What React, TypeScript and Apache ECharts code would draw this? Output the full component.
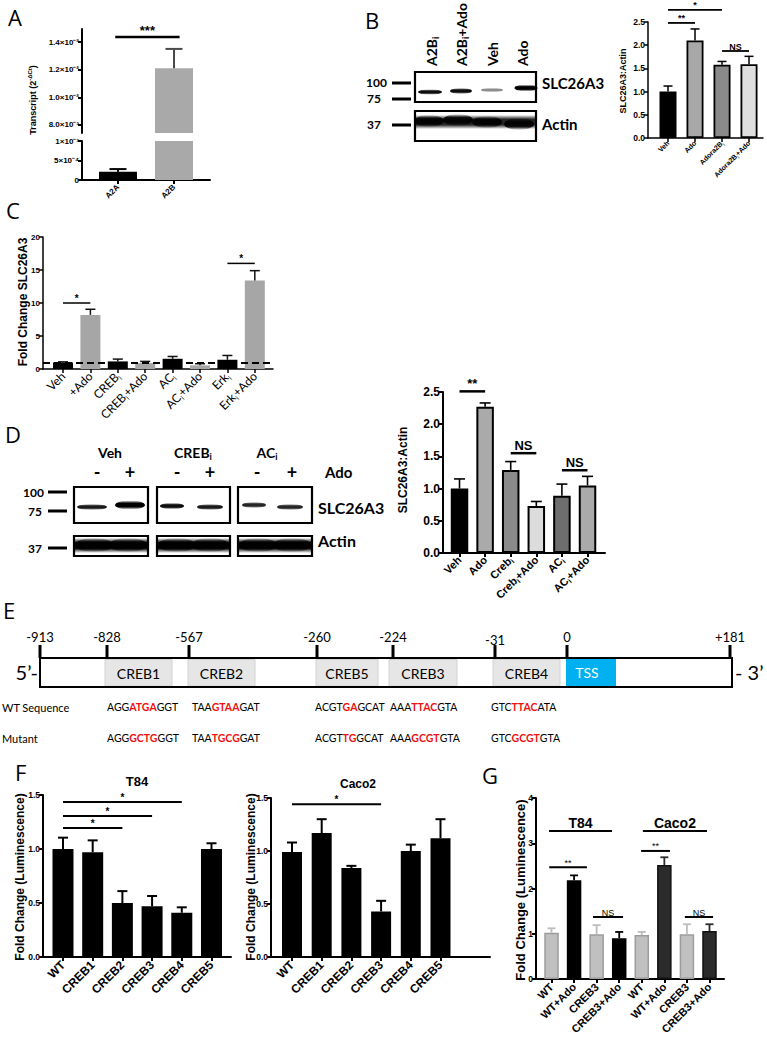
import React, { useEffect, useRef } from 'react';
import * as echarts from 'echarts';

const ARIAL = '"Liberation Sans", Arial, Helvetica, sans-serif';
const CAL = 'Lato, "Open Sans", sans-serif';
const LIGHTF = '"Open Sans", Lato, sans-serif';

// ================= DATA =================
// Panel A
const aCategories = ['A2A', 'A2B'];
const aValues = [0.00021, 0.0121];
const aErrorTops = [0.00028, 0.0135];
const aUpperTicks = [0.008, 0.01, 0.012, 0.014];
const aUpperTickLabels = ['8.0×10⁻³', '1.0×10⁻²', '1.2×10⁻²', '1.4×10⁻²'];
const aLowerTicks = [0, 0.0005, 0.001];
const aLowerTickLabels = ['0', '5×10⁻⁴', '1×10⁻³'];
const aSignificance = [[-0.05, 1.1, 0.01436]];
const aSignificanceLabels = ['***'];

// Panel B
const bLaneLabels = ['A2B_i', 'A2B_i+Ado', 'Veh', 'Ado'];
const bMarkers = ['100', '75', '37'];
const bCategories = ['Veh', 'Ado', 'Adora2B_i', 'Adora2B_i+Ado'];
const bValues = [1.0, 2.1, 1.58, 1.59];
const bErrorTops = [1.12, 2.35, 1.65, 1.76];
const bSignificance = [[0, 1, 2.48], [0, 2, 2.76], [2, 3, 1.875]];
const bSignificanceLabels = ['**', '*', 'NS'];

// Panel C
const cCategories = ['Veh', '+Ado', 'CREB_i', 'CREB_i+Ado', 'AC_i', 'AC_i+Ado', 'Erk_i', 'Erk_i+Ado'];
const cValues = [1.0, 8.2, 1.15, 0.9, 1.55, 0.55, 1.4, 13.4];
const cErrorTops = [1.08, 9.05, 1.5, 1.15, 1.9, 0.8, 2.05, 14.9];
const cBaseline = 1;
const cSignificance = [[0, 1, 10], [6, 7, 16]];
const cSignificanceLabels = ['*', '*'];

// Panel D
const dGroups = ['Veh', 'CREB_i', 'AC_i'];
const dTreatments = ['-', '+', '-', '+', '-', '+'];
const dMarkers = ['100', '75', '37'];
const dCategories = ['Veh', 'Ado', 'Creb_i', 'Creb_i+Ado', 'AC_i', 'AC_i+Ado'];
const dValues = [1.0, 2.27, 1.29, 0.73, 0.89, 1.05];
const dErrorTops = [1.15, 2.33, 1.42, 0.8, 1.07, 1.19];
const dSignificance = [[0, 1, 2.51], [2, 3, 1.55], [4, 5, 1.285]];
const dSignificanceLabels = ['**', 'NS', 'NS'];

// Panel E
const ePositions = ['-913', '-828', '-567', '-260', '-224', '-31', '0', '+181'];
const eSites = ['CREB1', 'CREB2', 'CREB5', 'CREB3', 'CREB4'];
const eWildType = [['AGG', 'ATGA', 'GGT'], ['TAA', 'GTAA', 'GAT'], ['ACGT', 'GA', 'GCAT'], ['AAA', 'TTAC', 'GTA'], ['GTC', 'TTAC', 'ATA']];
const eMutant = [['AGG', 'GCTG', 'GGT'], ['TAA', 'TGCG', 'GAT'], ['ACGT', 'TG', 'GCAT'], ['AAA', 'GCGT', 'GTA'], ['GTC', 'GCGT', 'GTA']];

// Panel F
const fCategories = ['WT', 'CREB1', 'CREB2', 'CREB3', 'CREB4', 'CREB5'];
const fT84Values = [1.0, 0.97, 0.5, 0.47, 0.41, 1.0];
const fT84ErrorTops = [1.105, 1.08, 0.61, 0.565, 0.46, 1.053];
const fT84Significance = [[0, 4, 1.435], [0, 3, 1.305], [0, 2, 1.194]];
const fT84SignificanceLabels = ['*', '*', '*'];
const fCacoValues = [0.99, 1.17, 0.84, 0.43, 1.0, 1.12];
const fCacoErrorTops = [1.08, 1.3, 0.86, 0.53, 1.06, 1.3];
const fCacoSignificance = [[0, 3, 1.44]];
const fCacoSignificanceLabels = ['*'];

// Panel G
const gCategories = ['WT', 'WT+Ado', 'CREB3', 'CREB3+Ado', 'WT', 'WT+Ado', 'CREB3', 'CREB3+Ado'];
const gValues = [1.02, 2.18, 0.99, 0.9, 0.97, 2.52, 0.99, 1.06];
const gErrorTops = [1.12, 2.29, 1.19, 1.04, 1.04, 2.69, 1.21, 1.21];
const gGroups = [[-0.11, 2.68, 3.27], [4.05, 6.89, 3.27]];
const gGroupLabels = ['T84', 'Caco2'];
const gSignificance = [[-0.1, 1.57, 2.47], [3.97, 5.25, 2.83], [1.84, 3.17, 1.37], [5.91, 7.16, 1.37]];
const gSignificanceLabels = ['**', '**', 'NS', 'NS'];

// ================= LAYOUT / STYLE =================
const GRIDS = [
  { left: 82, top: 29, width: 128, height: 104, xMin: -0.643, xMax: 1.643 }, // A upper
  { left: 82, top: 141, width: 128, height: 39, xMin: -0.643, xMax: 1.643 }, // A lower
  { left: 648, top: 22, width: 115, height: 116, xMin: -0.741, xMax: 3.518 }, // B
  { left: 43, top: 237, width: 230, height: 132, xMin: -0.73, xMax: 7.664 }, // C
  { left: 443, top: 392, width: 162, height: 161, xMin: -0.645, xMax: 5.683 }, // D
  { left: 43, top: 795, width: 188, height: 162, xMin: -0.673, xMax: 5.657 }, // F T84
  { left: 271, top: 798, width: 219, height: 159, xMin: -0.707, xMax: 6.667 }, // F Caco2
  { left: 536, top: 798, width: 188, height: 181, xMin: -0.687, xMax: 7.643 }, // G
];
const A_UPPER_MIN = 0.00742;
const A_UPPER_MAX = 0.01494;
const A_LOWER_MAX = 0.001;

const aColors = ['#000000', '#a9a9a9'];
const aErrColors = ['#000000', '#4a4a4a'];
const bColors = ['#000000', '#a8a8a8', '#8a8a8a', '#dedede'];
const cColors = ['#000000', '#a6a6a6', '#000000', '#a6a6a6', '#000000', '#a6a6a6', '#000000', '#a6a6a6'];
const dColors = ['#000000', '#aaaaaa', '#8a8a8a', '#dcdcdc', '#6e6e6e', '#aaaaaa'];
const gColors = ['#c0c0c0', '#000000', '#c0c0c0', '#000000', '#c0c0c0', '#2b2b2b', '#c0c0c0', '#2b2b2b'];
const gBorders = ['#9c9c9c', '#000000', '#9c9c9c', '#000000', '#9c9c9c', '#111111', '#9c9c9c', '#111111'];
const gErrColors = ['#bdbdbd', '#000000', '#bdbdbd', '#000000', '#bdbdbd', '#2b2b2b', '#bdbdbd', '#2b2b2b'];

function richName(name: string): string {
  const k = name.indexOf('_i');
  if (k < 0) return `{n|${name}}`;
  const rest = name.slice(k + 2);
  return `{n|${name.slice(0, k)}}{s|i}` + (rest ? `{n|${rest}}` : '');
}

function subRich(size: number, family: string, weight: string) {
  const ss = Math.round(size * 0.62);
  return {
    n: { fontSize: size, fontFamily: family, fontWeight: weight, color: '#000', fill: '#000', lineHeight: size + 3 },
    s: { fontSize: ss, fontFamily: family, fontWeight: weight, color: '#000', fill: '#000', lineHeight: ss, verticalAlign: 'bottom' },
  };
}

function xAxis(i: number, cats: string[], o: any) {
  const g = GRIDS[i];
  const ticks = cats.map((_, k) => k);
  return {
    type: 'value', gridIndex: i, min: g.xMin, max: g.xMax, show: o.show !== false,
    axisLine: { show: true, onZero: false, lineStyle: { color: '#000', width: o.lw } },
    axisTick: { show: true, length: 4, customValues: ticks, lineStyle: { color: '#000', width: o.lw } },
    axisLabel: {
      show: true, customValues: ticks, rotate: 45, margin: o.margin ?? 5, hideOverlap: false,
      formatter: (v: number) => richName(cats[Math.round(v)] ?? ''),
      rich: subRich(o.size, o.family, o.weight),
    },
    splitLine: { show: false },
  };
}

function yAxis(i: number, min: number, max: number, o: any) {
  const ax: any = {
    type: 'value', gridIndex: i, min, max,
    axisLine: { show: true, onZero: false, lineStyle: { color: '#000', width: o.lw } },
    axisTick: { show: true, length: 4, lineStyle: { color: '#000', width: o.lw } },
    axisLabel: { show: true, margin: 3, color: '#000', fontSize: o.size, fontWeight: 'bold', fontFamily: ARIAL, formatter: o.formatter, hideOverlap: false },
    splitLine: { show: false },
  };
  if (o.interval) ax.interval = o.interval;
  if (o.ticks) { ax.axisTick.customValues = o.ticks; ax.axisLabel.customValues = o.ticks; }
  return ax;
}

function bars(i: number, vals: number[], colors: string[], borders: string[] | null, bw: number, width: number, keep?: (v: number, k: number) => boolean, extra: any = {}) {
  const data: any[] = [];
  vals.forEach((v, k) => {
    if (keep && !keep(v, k)) return;
    data.push({ value: [k, v], itemStyle: { color: colors[k], borderColor: borders ? borders[k] : colors[k], borderWidth: bw } });
  });
  return { type: 'bar', xAxisIndex: i, yAxisIndex: i, barWidth: width, silent: true, clip: true, data, ...extra };
}

function errors(i: number, vals: number[], tops: number[], colors: string[], cap: number, lw: number, keep?: (v: number, t: number) => boolean) {
  const data: number[][] = [];
  const cols: string[] = [];
  vals.forEach((v, k) => {
    if (keep && !keep(v, tops[k])) return;
    data.push([k, v, tops[k]]);
    cols.push(colors[k]);
  });
  return {
    type: 'custom', xAxisIndex: i, yAxisIndex: i, silent: true, clip: true, z: 3, data,
    renderItem: (params: any, api: any) => {
      const p0 = api.coord([api.value(0), api.value(1)]);
      const p1 = api.coord([api.value(0), api.value(2)]);
      const c = cols[params.dataIndex];
      return {
        type: 'group', children: [
          { type: 'line', shape: { x1: p0[0], y1: p0[1], x2: p1[0], y2: p1[1] }, style: { stroke: c, lineWidth: lw } },
          { type: 'line', shape: { x1: p1[0] - cap / 2, y1: p1[1], x2: p1[0] + cap / 2, y2: p1[1] }, style: { stroke: c, lineWidth: lw } },
        ],
      };
    },
  };
}

function sig(i: number, items: number[][], labels: string[], font: string, lw: number, gap: number) {
  return {
    type: 'custom', xAxisIndex: i, yAxisIndex: i, silent: true, clip: false, z: 5, data: items,
    renderItem: (params: any, api: any) => {
      const p1 = api.coord([api.value(0), api.value(2)]);
      const p2 = api.coord([api.value(1), api.value(2)]);
      return {
        type: 'group', children: [
          { type: 'line', shape: { x1: p1[0], y1: p1[1], x2: p2[0], y2: p2[1] }, style: { stroke: '#000', lineWidth: lw } },
          {
            type: 'text', x: (p1[0] + p2[0]) / 2, y: p1[1] - gap,
            style: { text: labels[params.dataIndex], font, fill: '#000', align: 'center', textAlign: 'center', verticalAlign: 'bottom', textVerticalAlign: 'bottom' },
          },
        ],
      };
    },
  };
}

// ---------- graphic helpers ----------
function txt(x: number, y: number, text: string, font: string, align = 'left', fill = '#000', rotation = 0, rich?: any) {
  const el: any = {
    type: 'text', x, y, silent: true, z: 10, rotation,
    style: { text, font, fill, align, textAlign: align, verticalAlign: 'middle', textVerticalAlign: 'middle' },
  };
  if (rich) el.style.rich = rich;
  return el;
}
function rect(x: number, y: number, w: number, h: number, fill: string, stroke?: string, lw = 1) {
  return { type: 'rect', silent: true, z: 5, shape: { x, y, width: w, height: h }, style: { fill, stroke: stroke || 'rgba(0,0,0,0)', lineWidth: lw } };
}
function vgrad(a: number) {
  return {
    type: 'linear', x: 0, y: 0, x2: 0, y2: 1,
    colorStops: [
      { offset: 0, color: 'rgba(0,0,0,0)' },
      { offset: 0.3, color: `rgba(0,0,0,${a})` },
      { offset: 0.7, color: `rgba(0,0,0,${a})` },
      { offset: 1, color: 'rgba(0,0,0,0)' },
    ],
  };
}
function band(cx: number, cy: number, rx: number, ry: number, a: number) {
  return { type: 'ellipse', silent: true, z: 6, shape: { cx, cy, rx, ry }, style: { fill: vgrad(a) } };
}
function richTok(size: number, family: string, weight: string, sup = false) {
  const ss = Math.round(size * 0.65);
  return {
    n: { fontSize: size, fontFamily: family, fontWeight: weight, fill: '#000', color: '#000', lineHeight: size + 3 },
    s: { fontSize: ss, fontFamily: family, fontWeight: weight, fill: '#000', color: '#000', lineHeight: ss, verticalAlign: sup ? 'top' : 'bottom' },
  };
}

function buildGraphics() {
  const g: any[] = [];
  const letters: [string, number, number][] = [['A', 8, 17], ['B', 365, 20], ['C', 6, 210], ['D', 5, 434], ['E', 3, 610], ['F', 15, 772], ['G', 482, 775]];
  letters.forEach(([t, x, y]) => g.push(txt(x, y, t, `22px ${LIGHTF}`)));

  // ---- axis titles ----
  g.push(txt(33, 100, '{n|Transcript (2}{s|-ΔCt}{n|)}', `bold 9px ${ARIAL}`, 'center', '#000', Math.PI / 2, richTok(9, ARIAL, 'bold', true)));
  g.push(txt(623, 81, 'SLC26A3:Actin', `bold 9px ${ARIAL}`, 'center', '#000', Math.PI / 2));
  g.push(txt(23, 302, 'Fold Change SLC26A3', `bold 12px ${ARIAL}`, 'center', '#000', Math.PI / 2));
  g.push(txt(403, 470, 'SLC26A3:Actin', `bold 12px ${ARIAL}`, 'center', '#000', Math.PI / 2));
  g.push(txt(20, 877, 'Fold Change (Luminescence)', `bold 12px ${ARIAL}`, 'center', '#000', Math.PI / 2));
  g.push(txt(251, 877, 'Fold Change (Luminescence)', `bold 12px ${ARIAL}`, 'center', '#000', Math.PI / 2));
  g.push(txt(520, 890, 'Fold Change (Luminescence)', `bold 13px ${ARIAL}`, 'center', '#000', Math.PI / 2));
  g.push(txt(137, 781, 'T84', `bold 13px ${ARIAL}`, 'center'));
  g.push(txt(358, 784, 'Caco2', `bold 12px ${ARIAL}`, 'center'));

  // ---- Panel B blot ----
  const bLaneX = [431, 461, 492, 522];
  bLaneLabels.forEach((l, k) => g.push(txt(bLaneX[k], 66, richName(l), `bold 14px ${CAL}`, 'left', '#000', Math.PI / 2, richTok(14, CAL, 'bold'))));
  g.push(band(430, 92, 12, 2.8, 0.95));
  g.push(band(461, 91, 11, 3, 0.95));
  g.push(band(492, 90, 11, 2.2, 0.45));
  g.push(band(526, 88, 11.5, 3.4, 1));
  g.push({ type: 'rect', silent: true, z: 6, shape: { x: 416, y: 115, width: 119, height: 14 }, style: { fill: vgrad(0.85) } });
  [[429, 121], [458, 120], [487, 122], [519, 124]].forEach(([x, y]) => g.push(band(x, y, 15, 6, 0.9)));
  g.push(rect(415, 72, 121, 30, 'rgba(0,0,0,0)', '#000', 2.2));
  g.push(rect(415, 111, 121, 30, 'rgba(0,0,0,0)', '#000', 2.2));
  const bMarkY = [83, 99, 125];
  const bMarkRight = [387, 381, 381];
  bMarkers.forEach((m, k) => {
    g.push(txt(bMarkRight[k], bMarkY[k] - 1, m, `bold 12px ${CAL}`, 'right'));
    g.push(rect(392, bMarkY[k] - 1.5, 19, 3, '#000'));
  });
  g.push(txt(542, 83, 'SLC26A3', `bold 15px ${CAL}`));
  g.push(txt(542, 124, 'Actin', `bold 15px ${CAL}`));

  // ---- Panel D blot ----
  const dGroupX = [110, 193, 267];
  dGroups.forEach((t, k) => g.push(txt(dGroupX[k], 452, richName(t), `bold 14px ${CAL}`, 'center', '#000', 0, richTok(14, CAL, 'bold'))));
  const dLaneX = [97, 130, 177, 210, 257, 292];
  dTreatments.forEach((t, k) => g.push(txt(dLaneX[k], 472, t, `bold 18px ${CAL}`, 'center')));
  g.push(txt(325, 472, 'Ado', `bold 15px ${CAL}`));
  const dBoxes = [[74, 74], [157, 73], [238, 74]];
  const dBands = [[92, 507, 15, 3, 0.9], [130, 505, 15, 4.6, 1], [172, 506, 12, 3.2, 0.95], [210, 507, 13, 3, 0.9], [254, 505, 12, 3, 0.85], [290, 507, 13, 3, 0.85]];
  dBands.forEach(([x, y, rx, ry, a]) => g.push(band(x, y, rx, ry, a)));
  dBoxes.forEach(([x, w]) => {
    g.push({ type: 'rect', silent: true, z: 6, shape: { x: x + 1, y: 538, width: w - 2, height: 15 }, style: { fill: vgrad(0.95) } });
    g.push(band(x + w * 0.27, 545, w * 0.26, 7, 0.9));
    g.push(band(x + w * 0.73, 545, w * 0.26, 7, 0.9));
    g.push(rect(x, 487, w, 36, 'rgba(0,0,0,0)', '#000', 2.2));
    g.push(rect(x, 536, w, 20, 'rgba(0,0,0,0)', '#000', 2.2));
  });
  const dMarkY = [492, 511, 548];
  dMarkers.forEach((m, k) => {
    g.push(txt(k === 0 ? 44 : 42, dMarkY[k], m, `bold 12px ${CAL}`, 'right'));
    g.push(rect(48, dMarkY[k] - 1.5, 19, 3, '#000'));
  });
  g.push(txt(318, 507, 'SLC26A3', `bold 16px ${CAL}`));
  g.push(txt(318, 540, 'Actin', `bold 16px ${CAL}`));

  // ---- Panel E ----
  const eTickX = [40, 107, 189, 317, 393, 495, 567, 730];
  ePositions.forEach((p, k) => {
    g.push(txt(eTickX[k], k === 5 ? 640 : 637, p, `13px ${CAL}`, 'center'));
    g.push(rect(eTickX[k] - 1.5, 645, 3, 13, '#000'));
  });
  const eBoxes = [[105, 172], [188, 255], [316, 378], [389, 457], [493, 560]];
  eSites.forEach((s, k) => {
    const [x0, x1] = eBoxes[k];
    g.push(rect(x0, 659.5, x1 - x0, 26.5, '#e6e6e6', '#d2d2d2', 1));
    g.push(txt((x0 + x1) / 2, 673, s, `14px ${CAL}`, 'center'));
  });
  g.push(rect(566, 659, 50, 27.5, '#00b0f0'));
  g.push(txt(587, 672, 'TSS', `14px ${CAL}`, 'center', '#ffffff'));
  g.push(rect(40, 658, 692, 29, 'rgba(0,0,0,0)', '#000', 2));
  g.push(txt(38, 672, '5’-', `20px ${CAL}`, 'right'));
  g.push(txt(735, 672, '- 3’', `20px ${CAL}`, 'left'));
  g.push(txt(2, 707, 'WT Sequence', `11px ${CAL}`));
  g.push(txt(2, 738, 'Mutant', `11px ${CAL}`));
  const eSeqX = [107, 192, 315, 390, 491];
  const seqRich = {
    n: { fontSize: 10.5, fontFamily: CAL, fill: '#000', color: '#000' },
    r: { fontSize: 10.5, fontFamily: CAL, fontWeight: 'bold', fill: '#ee1111', color: '#ee1111' },
  };
  eWildType.forEach((s, k) => g.push(txt(eSeqX[k], 707, `{n|${s[0]}}{r|${s[1]}}{n|${s[2]}}`, `10.5px ${CAL}`, 'left', '#000', 0, seqRich)));
  eMutant.forEach((s, k) => g.push(txt(eSeqX[k], 738, `{n|${s[0]}}{r|${s[1]}}{n|${s[2]}}`, `10.5px ${CAL}`, 'left', '#000', 0, seqRich)));

  return g;
}

function buildOption() {
  const grids = GRIDS.map((g) => ({ left: g.left, top: g.top, width: g.width, height: g.height, containLabel: false, outerBoundsMode: 'none' }));
  const fmt1 = (v: number) => v.toFixed(1);
  const fmtInt = (v: number) => String(Math.round(v));
  const nearest = (ticks: number[], labels: string[]) => (v: number) => {
    const k = ticks.findIndex((t) => Math.abs(t - v) < 1e-9);
    return k >= 0 ? labels[k] : '';
  };

  const xAxes = [
    xAxis(0, aCategories, { show: false, lw: 2, size: 8, family: ARIAL, weight: 'bold' }),
    xAxis(1, aCategories, { lw: 2, size: 8, family: ARIAL, weight: 'bold', margin: 6 }),
    xAxis(2, bCategories, { lw: 1.5, size: 7, family: ARIAL, weight: 'bold', margin: 4 }),
    xAxis(3, cCategories, { lw: 1.5, size: 12, family: CAL, weight: 'normal', margin: 5 }),
    xAxis(4, dCategories, { lw: 2, size: 11, family: ARIAL, weight: 'bold', margin: 5 }),
    xAxis(5, fCategories, { lw: 2, size: 12, family: ARIAL, weight: 'bold', margin: 6 }),
    xAxis(6, fCategories, { lw: 2, size: 12, family: ARIAL, weight: 'bold', margin: 6 }),
    xAxis(7, gCategories, { lw: 2, size: 11, family: ARIAL, weight: 'bold', margin: 6 }),
  ];
  const yAxes = [
    yAxis(0, A_UPPER_MIN, A_UPPER_MAX, { lw: 2, size: 8, ticks: aUpperTicks, formatter: nearest(aUpperTicks, aUpperTickLabels) }),
    yAxis(1, 0, A_LOWER_MAX, { lw: 2, size: 8, ticks: aLowerTicks, formatter: nearest(aLowerTicks, aLowerTickLabels) }),
    yAxis(2, 0, 2.5, { lw: 1.5, size: 8.5, interval: 0.5, formatter: fmt1 }),
    yAxis(3, 0, 20, { lw: 1.5, size: 8, interval: 5, formatter: fmtInt }),
    yAxis(4, 0, 2.5, { lw: 2, size: 12, interval: 0.5, formatter: fmt1 }),
    yAxis(5, 0, 1.5, { lw: 2, size: 8.5, interval: 0.5, formatter: fmt1 }),
    yAxis(6, 0, 1.5, { lw: 2, size: 8.5, interval: 0.5, formatter: fmt1 }),
    yAxis(7, 0, 4, { lw: 2, size: 8.5, interval: 1, formatter: fmtInt }),
  ];

  const black6 = fCategories.map(() => '#000000');
  const series: any[] = [
    // A
    bars(0, aValues, aColors, null, 0, 38, (v) => v > A_UPPER_MIN),
    bars(1, aValues, aColors, null, 0, 38),
    errors(0, aValues, aErrorTops, aErrColors, 17, 2, (v) => v > A_UPPER_MIN),
    errors(1, aValues, aErrorTops, aErrColors, 17, 2, (v) => v < A_LOWER_MAX),
    sig(0, aSignificance, aSignificanceLabels, `bold 13px ${ARIAL}`, 2.5, 0),
    // B
    bars(2, bValues, bColors, ['#000', '#000', '#000', '#000'], 1.8, 17),
    errors(2, bValues, bErrorTops, ['#000', '#000', '#000', '#000'], 9, 1.5),
    sig(2, bSignificance, bSignificanceLabels, `bold 9px ${ARIAL}`, 1.8, 0),
    // C
    bars(3, cValues, cColors, null, 0, 20, undefined, {
      markLine: {
        silent: true, symbol: ['none', 'none'], label: { show: false }, z: 4,
        lineStyle: { color: '#000', width: 2, type: [7, 4] },
        data: [{ yAxis: cBaseline }],
      },
    }),
    errors(3, cValues, cErrorTops, cColors.map(() => '#111'), 10, 1.5),
    sig(3, cSignificance, cSignificanceLabels, `bold 10px ${ARIAL}`, 1.5, 0),
    // D
    bars(4, dValues, dColors, dColors.map(() => '#000'), 2, 17.5),
    errors(4, dValues, dErrorTops, dColors.map(() => '#000'), 11, 1.6),
    sig(4, dSignificance, dSignificanceLabels, `bold 13px ${ARIAL}`, 2.5, 1),
    // F
    bars(5, fT84Values, black6, null, 0, 21),
    errors(5, fT84Values, fT84ErrorTops, black6, 10, 2),
    sig(5, fT84Significance, fT84SignificanceLabels, `bold 10px ${ARIAL}`, 2, 0),
    bars(6, fCacoValues, black6, null, 0, 20),
    errors(6, fCacoValues, fCacoErrorTops, black6, 10, 2),
    sig(6, fCacoSignificance, fCacoSignificanceLabels, `bold 10px ${ARIAL}`, 2, 0),
    // G
    bars(7, gValues, gColors, gBorders, 1.5, 14.5),
    errors(7, gValues, gErrorTops, gErrColors, 8, 1.8),
    sig(7, gGroups, gGroupLabels, `bold 14px ${ARIAL}`, 2, 1),
    sig(7, gSignificance, gSignificanceLabels, `9px ${ARIAL}`, 2, 0),
  ];

  return {
    animation: false,
    backgroundColor: '#ffffff',
    textStyle: { fontFamily: ARIAL, color: '#000' },
    grid: grids,
    xAxis: xAxes,
    yAxis: yAxes,
    series,
    graphic: { elements: buildGraphics() },
  };
}

export default function App() {
  const ref = useRef<HTMLDivElement>(null);
  useEffect(() => {
    document.body.style.margin = '0';
    const chart = echarts.init(ref.current as HTMLDivElement, null, { renderer: 'svg', width: 767, height: 1050 });
    chart.setOption(buildOption() as any);
    return () => chart.dispose();
  }, []);
  return <div ref={ref} style={{ width: 767, height: 1050, background: '#fff' }} />;
}
